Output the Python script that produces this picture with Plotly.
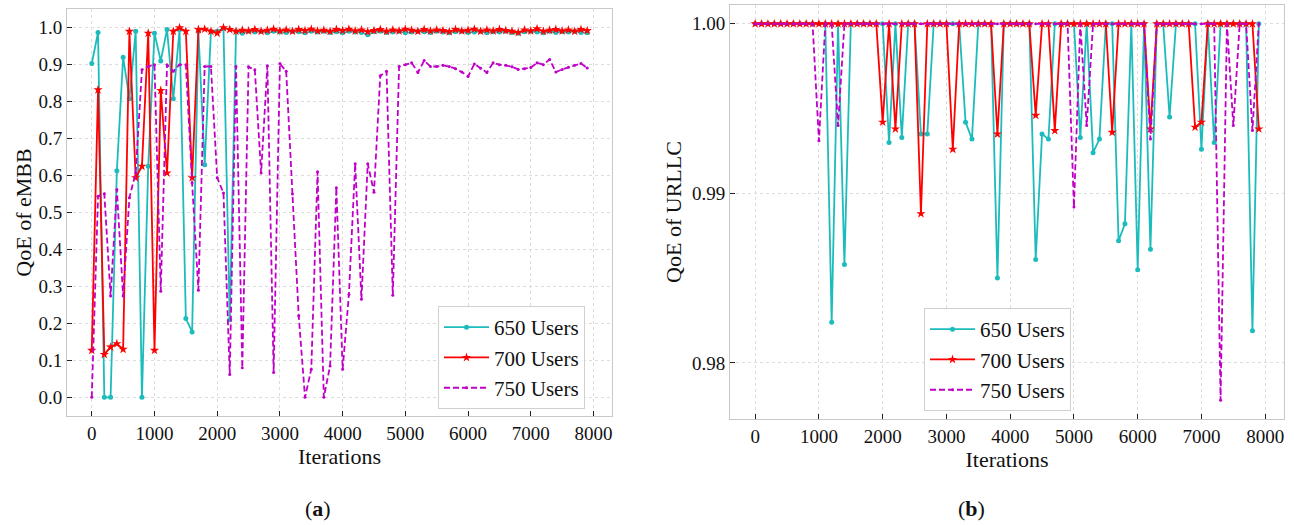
import plotly.graph_objects as go

iterations = list(range(0, 8000, 100))

# ---------- (a) QoE of eMBB ----------
embb_650 = [0.903, 0.987, 0.0, 0.0, 0.613, 0.92, 0.808, 0.99, 0.0, 0.625,
            0.985, 0.91, 0.995, 0.808, 0.995, 0.213, 0.177, 0.99, 0.629, 0.99,
            0.99, 0.998, 0.21, 0.99, 0.985, 0.99, 0.988, 0.99, 0.986, 0.99,
            0.988, 0.987, 0.99, 0.989, 0.986, 0.99, 0.988, 0.99, 0.987, 0.989,
            0.986, 0.99, 0.988, 0.987, 0.981, 0.989, 0.99, 0.987, 0.988, 0.99,
            0.986, 0.988, 0.99, 0.989, 0.987, 0.99, 0.988, 0.986, 0.989, 0.99,
            0.987, 0.988, 0.99, 0.986, 0.989, 0.988, 0.99, 0.987, 0.985, 0.989,
            0.99, 0.988, 0.986, 0.99, 0.987, 0.989, 0.988, 0.99, 0.987, 0.986]
embb_700 = [0.127, 0.832, 0.116, 0.136, 0.145, 0.13, 0.99, 0.594, 0.625, 0.985,
            0.127, 0.83, 0.607, 0.99, 1.0, 0.99, 0.594, 0.995, 0.996, 0.99,
            0.985, 1.0, 0.995, 0.99, 0.993, 0.991, 0.995, 0.99, 0.993, 0.996,
            0.991, 0.994, 0.99, 0.995, 0.992, 0.996, 0.991, 0.993, 0.99, 0.995,
            0.992, 0.996, 0.991, 0.994, 0.989, 0.992, 0.995, 0.99, 0.994, 0.991,
            0.996, 0.993, 0.99, 0.995, 0.991, 0.994, 0.992, 0.989, 0.995, 0.991,
            0.993, 0.996, 0.99, 0.994, 0.991, 0.995, 0.992, 0.99, 0.987, 0.994,
            0.991, 0.997, 0.99, 0.993, 0.995, 0.991, 0.994, 0.99, 0.995, 0.992]
embb_750 = [0.0, 0.544, 0.551, 0.274, 0.562, 0.274, 0.54, 0.607, 0.886, 0.895,
            0.9, 0.287, 0.9, 0.882, 0.9, 0.9, 0.58, 0.29, 0.895, 0.895,
            0.594, 0.553, 0.062, 0.895, 0.08, 0.894, 0.886, 0.607, 0.897, 0.067,
            0.903, 0.882, 0.55, 0.22, 0.0, 0.076, 0.61, 0.0, 0.085, 0.567,
            0.076, 0.278, 0.632, 0.265, 0.632, 0.555, 0.87, 0.882, 0.276, 0.895,
            0.9, 0.905, 0.879, 0.911, 0.895, 0.895, 0.898, 0.895, 0.889, 0.88,
            0.868, 0.902, 0.89, 0.879, 0.905, 0.9, 0.898, 0.894, 0.887, 0.889,
            0.892, 0.905, 0.9, 0.914, 0.88, 0.887, 0.893, 0.898, 0.903, 0.891]

# ---------- (b) QoE of URLLC ----------
urllc_650 = [1, 1, 1, 1, 1, 1, 1, 1, 1, 1,
             1, 1, 0.9824, 1, 0.9858, 1, 1, 1, 1, 1,
             1, 0.993, 1, 0.9933, 1, 1, 0.9935, 0.9935, 1, 1,
             1, 1, 1, 0.9942, 0.9932, 1, 1, 1, 0.985, 1,
             1, 1, 1, 1, 0.9861, 0.9935, 0.9932, 1, 1, 1,
             1, 0.9933, 1, 0.9924, 0.9932, 1, 1, 0.9872, 0.9882, 1,
             0.9855, 1, 0.9867, 1, 1, 0.9945, 1, 1, 1, 1,
             0.9926, 1, 0.993, 1, 1, 1, 1, 1, 0.9819, 1]
urllc_700 = [1, 1, 1, 1, 1, 1, 1, 1, 1, 1,
             1, 1, 1, 1, 1, 1, 1, 1, 1, 1,
             0.9942, 1, 0.9938, 1, 1, 1, 0.9888, 1, 1, 1,
             1, 0.9926, 1, 1, 1, 1, 1, 1, 0.9935, 1,
             1, 1, 1, 1, 0.9946, 1, 1, 0.9937, 1, 1,
             1, 1, 1, 1, 1, 1, 0.9936, 1, 1, 1,
             1, 1, 0.9938, 1, 1, 1, 1, 1, 1, 0.9939,
             0.9942, 1, 1, 1, 1, 1, 1, 1, 1, 0.9938]
urllc_750 = [1, 1, 1, 1, 1, 1, 1, 1, 1, 1,
             0.9931, 1, 1, 0.994, 1, 1, 1, 1, 1, 1,
             1, 1, 1, 1, 1, 1, 1, 1, 1, 1,
             1, 1, 1, 1, 1, 1, 1, 1, 1, 1,
             1, 1, 1, 1, 1, 1, 1, 1, 1, 1,
             0.9892, 1, 0.994, 1, 1, 1, 1, 1, 1, 1,
             1, 1, 0.9932, 1, 1, 1, 1, 1, 1, 1,
             1, 1, 1, 0.9778, 1, 0.994, 1, 1, 0.9937, 1]

series_names = ["650 Users", "700 Users", "750 Users"]
x_ticks = [0, 1000, 2000, 3000, 4000, 5000, 6000, 7000, 8000]
embb_ticks = [0.0, 0.1, 0.2, 0.3, 0.4, 0.5, 0.6, 0.7, 0.8, 0.9, 1.0]
urllc_ticks = [0.98, 0.99, 1.00]

CYAN = "#1cbcbc"
RED = "#ff0000"
MAG = "#c000c8"
FONT = "'Liberation Serif', 'Times New Roman', 'DejaVu Serif', serif"

styles = [
    dict(line=dict(color=CYAN, width=1.8), marker=dict(symbol="circle", size=5, color=CYAN)),
    dict(line=dict(color=RED, width=1.8), marker=dict(symbol="star", size=7, color=RED)),
    dict(line=dict(color=MAG, width=1.8, dash="6px,3px"), marker=dict(symbol="circle", size=3, color=MAG)),
]

fig = go.Figure()
for name, ys, st in zip(series_names, [embb_650, embb_700, embb_750], styles):
    fig.add_trace(go.Scatter(x=iterations, y=ys, name=name, mode="lines+markers",
                             xaxis="x", yaxis="y", legend="legend", legendgroup="a" + name, **st))
for name, ys, st in zip(series_names, [urllc_650, urllc_700, urllc_750], styles):
    fig.add_trace(go.Scatter(x=iterations, y=ys, name=name, mode="lines+markers",
                             xaxis="x2", yaxis="y2", legend="legend2", legendgroup="b" + name, **st))

axis_common = dict(showline=True, linecolor="#c8c8c8", linewidth=1, mirror=True,
                   showgrid=True, gridcolor="#dcdcdc", griddash="dot", gridwidth=1,
                   zeroline=False, ticks="inside", ticklen=5, tickcolor="#222",
                   tickfont=dict(family=FONT, size=19, color="#111"))

W, H = 1294, 525
fig.update_layout(
    width=W, height=H, margin=dict(l=0, r=0, t=0, b=0),
    paper_bgcolor="white", plot_bgcolor="white",
    font=dict(family=FONT, color="#111"),
    xaxis=dict(domain=[67 / W, 612 / W], range=[-395, 8295], tickvals=x_ticks,
               title=dict(text="Iterations", font=dict(family=FONT, size=22), standoff=2), **axis_common),
    yaxis=dict(domain=[1 - 416 / H, 1 - 9 / H], range=[-0.0505, 1.0505], tickvals=embb_ticks,
               tickformat=".1f", anchor="x",
               title=dict(text="QoE of eMBB", font=dict(family=FONT, size=22), standoff=0), **axis_common),
    xaxis2=dict(domain=[730 / W, 1284 / W], range=[-395, 8295], tickvals=x_ticks, anchor="y2",
                title=dict(text="Iterations", font=dict(family=FONT, size=22), standoff=2), **axis_common),
    yaxis2=dict(domain=[1 - 419 / H, 1 - 5 / H], range=[0.97669, 1.00111], tickvals=urllc_ticks,
                tickformat=".2f", anchor="x2",
                title=dict(text="QoE of URLLC", font=dict(family=FONT, size=22), standoff=4), **axis_common),
    legend=dict(x=438 / W, y=1 - 306 / H, xanchor="left", yanchor="top",
                bgcolor="rgba(255,255,255,0.9)", bordercolor="#d0d0d0", borderwidth=1,
                font=dict(family=FONT, size=21), itemwidth=45, tracegroupgap=0),
    legend2=dict(x=924 / W, y=1 - 308 / H, xanchor="left", yanchor="top",
                 bgcolor="rgba(255,255,255,0.9)", bordercolor="#d0d0d0", borderwidth=1,
                 font=dict(family=FONT, size=21), itemwidth=45, tracegroupgap=0),
    annotations=[
        dict(text="(<b>a</b>)", x=318 / W, y=1 - 508 / H, xref="paper", yref="paper",
             xanchor="center", yanchor="middle",
             showarrow=False, font=dict(family=FONT, size=22)),
        dict(text="(<b>b</b>)", x=972 / W, y=1 - 508 / H, xref="paper", yref="paper",
             xanchor="center", yanchor="middle",
             showarrow=False, font=dict(family=FONT, size=22)),
    ],
)

fig.write_html("out.html")
